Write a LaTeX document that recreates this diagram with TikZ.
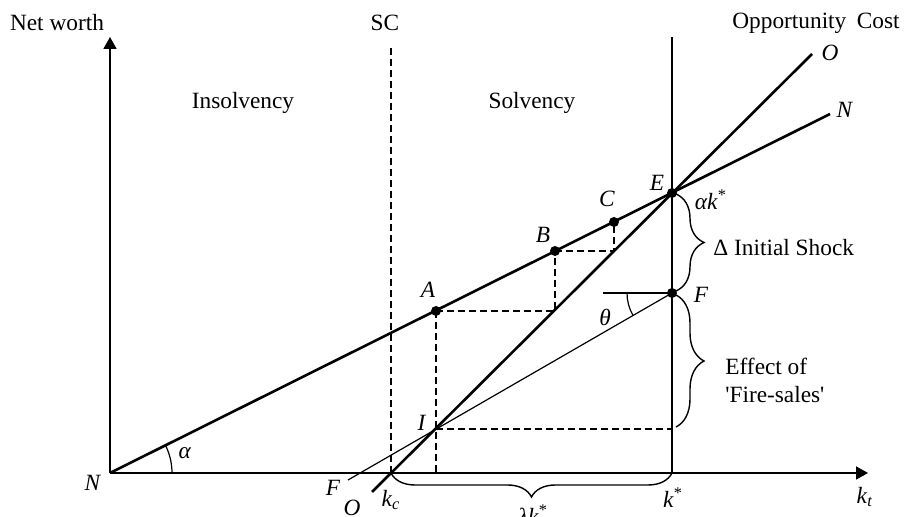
\documentclass[tikz,border=0pt]{standalone}
\usepackage{fontspec}
\setmainfont{Liberation Serif}
\usetikzlibrary{arrows.meta,decorations.pathreplacing}

\begin{document}
\begin{tikzpicture}[x=0.5bp,y=0.5bp,
  every node/.style={font=\fontsize{11.7}{14}\selectfont, inner sep=0pt},
  axis line/.style={line width=0.9bp, -{Triangle[length=6bp,width=6.5bp]}},
  thick line/.style={line width=1.3bp},
  mid line/.style={line width=0.8bp},
  thin line/.style={line width=0.6bp},
  guide/.style={line width=0.6bp, dash pattern=on 3.5bp off 2bp},
  curly/.style={decorate, decoration={brace, amplitude=14bp}, line width=0.7bp}]
\useasboundingbox (0,0) rectangle (905,517);
% points
\coordinate (N) at (110,44);
\coordinate (ytop) at (110,480);
\coordinate (xend) at (868,44);
\coordinate (kc) at (391,44);
\coordinate (SCtop) at (391,469);
\coordinate (kstar) at (672,44);
\coordinate (kstartop) at (672,480);
\coordinate (E) at (672,324);
\coordinate (Nend) at (830,403);
\coordinate (Ostart) at (372,25);
\coordinate (Oend) at (812,463);
\coordinate (A) at (436,206);
\coordinate (Ar) at (555,206);
\coordinate (B) at (555,266);
\coordinate (Br) at (614,266);
\coordinate (C) at (614,295);
\coordinate (I) at (436,88);
\coordinate (Ik) at (672,88);
\coordinate (Ax) at (436,44);
\coordinate (F) at (672,224);
\coordinate (Fstart) at (348,37);
\coordinate (Fh) at (603,224);
% axes and lines
\draw[axis line] (N) -- (ytop);
\draw[axis line] (N) -- (xend);
\draw[guide] (kc) -- (SCtop);
\draw[mid line] (kstar) -- (kstartop);
\draw[thick line] (N) -- (Nend);
\draw[thick line] (Ostart) -- (Oend);
\draw[thin line] (Fstart) -- (F);
\draw[thin line] (Fh) -- (F);
% cobweb
\draw[guide] (A) -- (Ax);
\draw[guide] (A) -- (Ar) -- (B);
\draw[guide] (B) -- (Br) -- (C);
\draw[guide] (I) -- (Ik);
% angles
\draw[thin line] ([shift={(0:62)}]N) arc[start angle=0,end angle=26.5,radius=62];
\draw[thin line] ([shift={(180:45)}]F) arc[start angle=180,end angle=210,radius=45];
\foreach \p in {A,B,C,E,F} \fill (\p) circle (5);
% braces
\draw[curly] ([shift={(4,-1)}]E) -- ([shift={(4,2)}]F);
\draw[curly] ([shift={(4,-2)}]F) -- ([shift={(4,2)}]Ik);
\draw[curly, decoration={amplitude=12bp}] (kstar) -- (kc);
% labels
\node (lNet) at (57,494) {Net worth};
\node (lSC) at (385,494) {SC};
\node (lOpp) at (816,494) {Opportunity\hspace{0.45em}Cost};
\node (lIns) at (243,414) {Insolvency};
\node (lSol) at (532,414) {Solvency};
\node (lOup) at (830,464) {\textit{O}};
\node (lNup) at (845,407) {\textit{N}};
\node (lE) at (657,334) {\textit{E}};
\node (lak) at (711,317) {\textit{αk}\textsuperscript{*}};
\node (lC) at (607,318) {\textit{C}};
\node (lB) at (543,282) {\textit{B}};
\node (lA) at (428,227) {\textit{A}};
\node (lF) at (701,222) {\textit{F}};
\node (lth) at (605,200) {\textit{θ}};
\node (lI) at (422,94) {\textit{I}};
\node (lN) at (93,34) {\textit{N}};
\node (lal) at (185,64) {\textit{α}};
\node (lFlo) at (333,29) {\textit{F}};
\node (lOlo) at (352,9) {\textit{O}};
\node (lkc) at (391,17) {\textit{k}\textsubscript{\textit{c}}};
\node (lks) at (673,19) {\textit{k}\textsuperscript{*}};
\node (lkt) at (865,20) {\textit{k}\textsubscript{\textit{t}}};
\node (llk) at (533,2) {\textit{λk}\textsuperscript{*}};
\node[anchor=west] (lShock) at (713,269) {Δ Initial Shock};
\node[anchor=west, align=left] (lFire) at (725,137) {Effect of\\\textquotesingle Fire-sales\textquotesingle};
\end{tikzpicture}
\end{document}
